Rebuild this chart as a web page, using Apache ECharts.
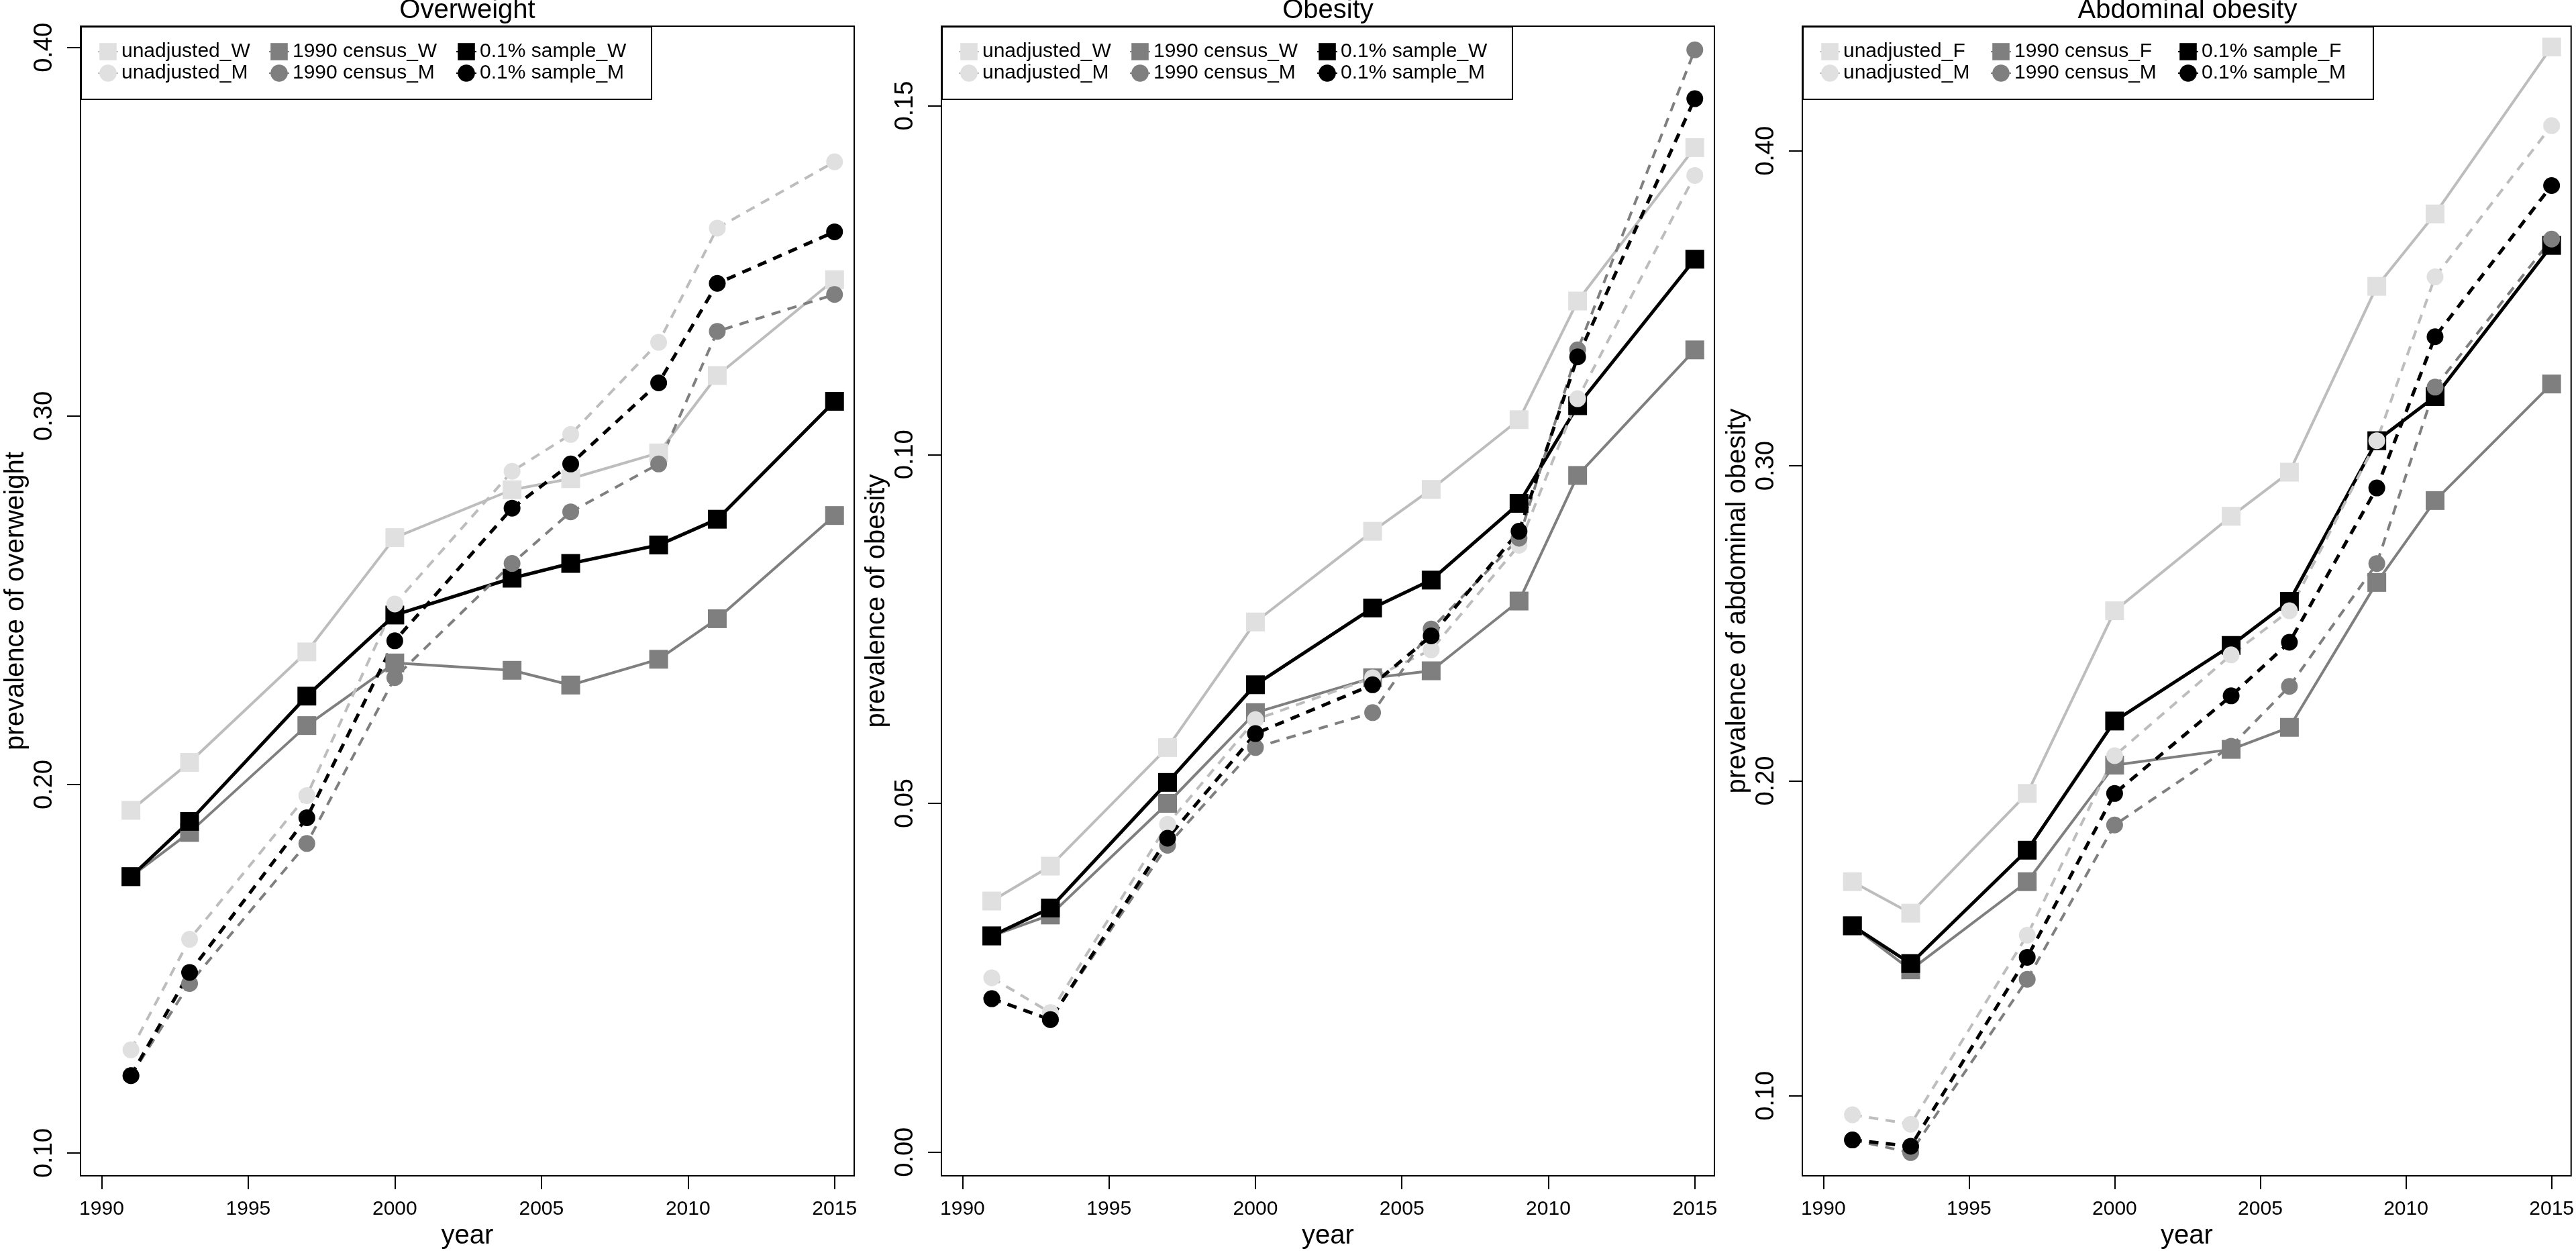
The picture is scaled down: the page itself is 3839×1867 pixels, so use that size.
<!DOCTYPE html>
<html><head><meta charset="utf-8">
<script src="https://cdn.jsdelivr.net/npm/echarts@6/dist/echarts.min.js"></script>
<style>html,body{margin:0;padding:0;background:#fff}#c{width:3839px;height:1867px}</style>
</head><body><div id="c"></div>
<script>
// ---------- data ----------
const years = [1991, 1993, 1997, 2000, 2004, 2006, 2009, 2011, 2015];
const xTicks = [1990, 1995, 2000, 2005, 2010, 2015];

const namesWM = ['unadjusted_W', '1990 census_W', '0.1% sample_W', 'unadjusted_M', '1990 census_M', '0.1% sample_M'];
const namesFM = ['unadjusted_F', '1990 census_F', '0.1% sample_F', 'unadjusted_M', '1990 census_M', '0.1% sample_M'];

// Overweight
const ow_unadj_W  = [0.193, 0.206, 0.236, 0.267, 0.280, 0.283, 0.290, 0.311, 0.337];
const ow_census_W = [0.175, 0.187, 0.216, 0.233, 0.231, 0.227, 0.234, 0.245, 0.273];
const ow_sample_W = [0.175, 0.190, 0.224, 0.246, 0.256, 0.260, 0.265, 0.272, 0.304];
const ow_unadj_M  = [0.128, 0.158, 0.197, 0.249, 0.285, 0.295, 0.320, 0.351, 0.369];
const ow_census_M = [0.121, 0.146, 0.184, 0.229, 0.260, 0.274, 0.287, 0.323, 0.333];
const ow_sample_M = [0.121, 0.149, 0.191, 0.239, 0.275, 0.287, 0.309, 0.336, 0.350];
const owTicks = [0.10, 0.20, 0.30, 0.40];

// Obesity
const ob_unadj_W  = [0.036, 0.041, 0.058, 0.076, 0.089, 0.095, 0.105, 0.122, 0.144];
const ob_census_W = [0.031, 0.034, 0.050, 0.063, 0.068, 0.069, 0.079, 0.097, 0.115];
const ob_sample_W = [0.031, 0.035, 0.053, 0.067, 0.078, 0.082, 0.093, 0.107, 0.128];
const ob_unadj_M  = [0.025, 0.020, 0.047, 0.062, 0.068, 0.072, 0.087, 0.108, 0.140];
const ob_census_M = [0.022, 0.019, 0.044, 0.058, 0.063, 0.075, 0.088, 0.115, 0.158];
const ob_sample_M = [0.022, 0.019, 0.045, 0.060, 0.067, 0.074, 0.089, 0.114, 0.151];
const obTicks = [0.00, 0.05, 0.10, 0.15];

// Abdominal obesity
const ab_unadj_F  = [0.168, 0.158, 0.196, 0.254, 0.284, 0.298, 0.357, 0.380, 0.433];
const ab_census_F = [0.154, 0.140, 0.168, 0.205, 0.210, 0.217, 0.263, 0.289, 0.326];
const ab_sample_F = [0.154, 0.142, 0.178, 0.219, 0.243, 0.257, 0.308, 0.322, 0.370];
const ab_unadj_M  = [0.094, 0.091, 0.151, 0.208, 0.240, 0.254, 0.308, 0.360, 0.408];
const ab_census_M = [0.086, 0.082, 0.137, 0.186, 0.211, 0.230, 0.269, 0.325, 0.372];
const ab_sample_M = [0.086, 0.084, 0.144, 0.196, 0.227, 0.244, 0.293, 0.341, 0.389];
const abTicks = [0.10, 0.20, 0.30, 0.40];

const titles = ['Overweight', 'Obesity', 'Abdominal obesity'];
const yTitles = ['prevalence of overweight', 'prevalence of obesity', 'prevalence of abdominal obesity'];

// ---------- layout / style ----------
const FONT = "'Liberation Sans', Arial, Helvetica, sans-serif";
const panels = [
  { left: 120,  width: 1153, yMin: 0.0938, yMax: 0.4058, ticks: owTicks, names: namesWM,
    values: [ow_unadj_W, ow_census_W, ow_sample_W, ow_unadj_M, ow_census_M, ow_sample_M] },
  { left: 1403, width: 1152, yMin: -0.0034, yMax: 0.1614, ticks: obTicks, names: namesWM,
    values: [ob_unadj_W, ob_census_W, ob_sample_W, ob_unadj_M, ob_census_M, ob_sample_M] },
  { left: 2686, width: 1148, yMin: 0.0746, yMax: 0.4396, ticks: abTicks, names: namesFM,
    values: [ab_unadj_F, ab_census_F, ab_sample_F, ab_unadj_M, ab_census_M, ab_sample_M] }
];
const GTOP = 39, GH = 1722;
const DASH = [14, 11];
const sty = [
  { symbol: 'rect',   size: 28, fill: '#e0e0e0', line: '#bdbdbd', w: 4, type: 'solid' },
  { symbol: 'rect',   size: 28, fill: '#7f7f7f', line: '#7f7f7f', w: 4, type: 'solid' },
  { symbol: 'rect',   size: 28, fill: '#000000', line: '#000000', w: 5, type: 'solid' },
  { symbol: 'circle', size: 25, fill: '#e0e0e0', line: '#bdbdbd', w: 4, type: DASH },
  { symbol: 'circle', size: 25, fill: '#7f7f7f', line: '#7f7f7f', w: 4, type: DASH },
  { symbol: 'circle', size: 25, fill: '#000000', line: '#000000', w: 5, type: DASH }
];

const grid = [], xAxis = [], yAxis = [], series = [], title = [], legend = [], graphic = [];
panels.forEach((p, i) => {
  grid.push({ left: p.left, top: GTOP, width: p.width, height: GH, show: true,
              borderColor: '#000', borderWidth: 2, backgroundColor: 'transparent' });
  xAxis.push({
    gridIndex: i, type: 'value', min: 1989.28, max: 2015.67,
    name: 'year', nameLocation: 'middle', nameGap: 64,
    nameTextStyle: { fontSize: 40, fontFamily: FONT, color: '#000' },
    axisLine: { show: false, onZero: false }, splitLine: { show: false },
    axisTick: { show: true, length: 20, customValues: xTicks, lineStyle: { color: '#000', width: 2 } },
    axisLabel: { customValues: xTicks, margin: 35, fontSize: 30, fontFamily: FONT, color: '#000',
                 formatter: v => String(v) }
  });
  yAxis.push({
    gridIndex: i, type: 'value', min: p.yMin, max: p.yMax,
    name: yTitles[i], nameLocation: 'middle', nameGap: 76, nameRotate: 90,
    nameTextStyle: { fontSize: 40, fontFamily: FONT, color: '#000' },
    axisLine: { show: false, onZero: false }, splitLine: { show: false },
    axisTick: { show: true, length: 20, customValues: p.ticks, lineStyle: { color: '#000', width: 2 } },
    axisLabel: { customValues: p.ticks, rotate: 90, margin: 34, fontSize: 38, fontFamily: FONT, color: '#000',
                 formatter: v => v.toFixed(2) }
  });
  title.push({
    text: titles[i], left: p.left + p.width / 2, top: -4, textAlign: 'center', padding: 0,
    textStyle: { fontSize: 40, fontWeight: 'normal', fontFamily: FONT, color: '#000' }
  });
  p.values.forEach((vals, k) => {
    const s = sty[k];
    series.push({
      name: p.names[k], type: 'line', xAxisIndex: i, yAxisIndex: i,
      data: years.map((y, j) => [y, vals[j]]),
      symbol: s.symbol, symbolSize: s.size, showSymbol: true,
      itemStyle: { color: s.fill, borderWidth: 0 },
      lineStyle: { color: s.line, width: s.w, type: s.type },
      emphasis: { disabled: true }, animation: false, z: 2
    });
  });
  // legend box
  graphic.push({ type: 'rect', left: p.left, top: GTOP, z: 3,
                 shape: { width: 850, height: 108 },
                 style: { fill: '#fff', stroke: '#000', lineWidth: 2 } });
  const colOffsets = [25, 280, 559];
  colOffsets.forEach((off, c) => {
    legend.push({
      left: p.left + off, top: 61, orient: 'vertical', padding: 0,
      itemWidth: 30, itemHeight: 32, itemGap: 0, selectedMode: false, z: 5,
      data: [p.names[c], p.names[c + 3]],
      textStyle: { fontSize: 30, fontFamily: FONT, color: '#000', lineHeight: 32 }
    });
  });
});

const chart = echarts.init(document.getElementById('c'), null, { renderer: 'canvas' });
chart.setOption({
  backgroundColor: '#ffffff', animation: false,
  textStyle: { fontFamily: FONT },
  title, grid, xAxis, yAxis, series, legend, graphic
});
</script>
</body></html>
